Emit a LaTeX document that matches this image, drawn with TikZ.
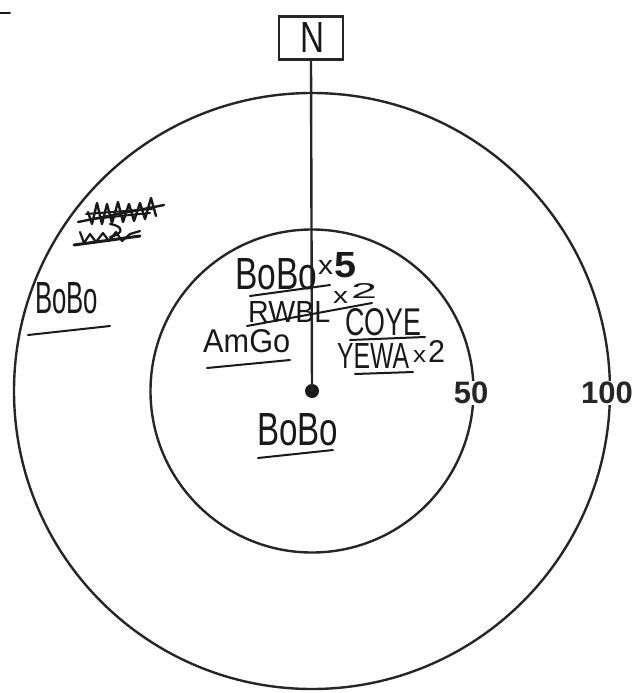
\documentclass[tikz,border=0pt]{standalone}
\usepackage{fontspec}
\setmainfont{Liberation Sans}
\usepackage{graphicx}
\newcommand{\hw}[3]{\resizebox{#1pt}{#2pt}{#3}}
\begin{document}
\begin{tikzpicture}[x=1pt,y=-1pt,
  ring/.style={draw=black!85,line width=2.4pt},
  pen/.style={draw=black!90,line width=2pt,line cap=round,line join=round},
  hand/.style={inner sep=0pt,anchor=north west,text=black!90},
  dist/.style={fill=white,inner sep=1pt,font=\fontsize{31}{31}\selectfont\bfseries,text=black!85}]
\useasboundingbox (0,0) rectangle (634,693);
% rings
\coordinate (c) at (312,391);
\draw[ring] (c) circle[radius=161.5];
\draw[ring] (c) circle[radius=298];
% north marker
\node[draw=black!85,line width=2.4pt,minimum width=64pt,minimum height=43pt,inner sep=0pt] (north) at (311,38) {};
\node[hand,anchor=center] (nlabel) at (312,37) {\hw{24}{30}{N}};
\node[circle,fill=black!90,inner sep=0pt,minimum size=14pt] (dot) at (c) {};
\draw[line width=2.4pt,black!85] (north.south) -- (dot.center);
% distance labels
\node[dist] (l50) at (471,393) {50};
\node[dist] (l100) at (607,393) {100};
% small mark top left
\coordinate (m1) at (0,13); \coordinate (m2) at (10,13);
\draw[pen] (m1) -- (m2);
% crossed-out scribbles
\draw[pen,line width=2.4pt] (88,212) -- (92,224) -- (97,203) -- (102,224) -- (107,204) -- (112,223) -- (118,202) -- (123,222) -- (129,204) -- (134,221) -- (140,203) -- (145,219) -- (151,198) -- (156,216);
\draw[pen,line width=2.4pt] (78,222) -- (164,205);
\draw[pen,line width=2pt] (86,214) -- (152,209);
\draw[pen,line width=2pt] (92,219) -- (150,213);
\draw[pen,line width=2.2pt] (110,224) .. controls (124,226) and (124,234) .. (110,237);
\draw[pen,line width=2.2pt] (80,232) -- (84,243) -- (90,234) -- (96,242) -- (103,233) -- (109,241) -- (116,232) -- (122,241) -- (130,234) -- (140,231);
\draw[pen,line width=3pt] (74,245) -- (140,236);
% outer BoBo
\node[hand] (b1) at (35,282) {\hw{63}{31}{BoBo}};
\draw[pen] (28,335) -- (110,326);
% inner notes
\node[hand] (b2) at (235,258) {\hw{82}{31}{BoBo}};
\node[hand] (b2x) at (318,260) {\hw{15}{14}{x}};
\node[hand] (b2n) at (334,252) {\hw{22}{25}{\bfseries 5}};
\draw[pen] (250,296) -- (330,285);
\node[hand] (r1) at (248,301) {\hw{82}{21}{RWBL}};
\node[hand] (r1x) at (333,291) {\hw{15}{12}{x}};
\node[hand] (r1n) at (351,283) {\hw{26}{15}{2}};
\draw[pen] (247,326) -- (372,303);
\node[hand] (am) at (203,329) {\hw{87}{23}{AmGo}};
\draw[pen] (207,368) -- (290,360);
\node[hand] (co) at (345,308) {\hw{76}{27}{COYE}};
\draw[pen] (350,340) -- (425,337);
\node[hand] (ye) at (337,343) {\hw{72}{25}{YEWA}};
\node[hand] (yex) at (413,350) {\hw{13}{12}{x}};
\node[hand] (yen) at (428,340) {\hw{17}{22}{2}};
\draw[pen] (355,374) -- (413,372);
\node[hand] (b3) at (257,413) {\hw{81}{32}{BoBo}};
\draw[pen] (258,458) -- (333,450);
\end{tikzpicture}
\end{document}
